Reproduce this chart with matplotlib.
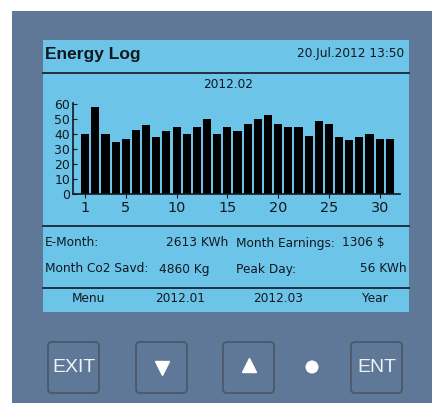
import matplotlib
matplotlib.use("Agg")

import matplotlib.pyplot as plt
from matplotlib.patches import Rectangle, FancyBboxPatch, Circle


plt.rcParams["font.family"] = ["DejaVu Sans"]

# daily energy for 2012.02
days = list(range(1, 32))
energy = [
    40, 58, 40, 35, 37, 43, 46, 38, 42, 45,
    40, 45, 50, 40, 45, 42, 47, 50, 53, 47,
    45, 45, 39, 49, 47, 38, 36, 38, 40, 37, 37,
]

y_ticks = [0, 10, 20, 30, 40, 50, 60]
x_ticks = [1, 5, 10, 15, 20, 25, 30]

title = "Energy Log"
timestamp = "20.Jul.2012 13:50"
month = "2012.02"

stat_labels = ["E-Month:", "Month Earnings:", "Month Co2 Savd:", "Peak Day:"]
stat_values = ["2613 KWh", "1306 $", "4860 Kg", "56 KWh"]

menu_items = ["Menu", "2012.01", "2012.03", "Year"]

DEVICE = "#5f7898"
SCREEN = "#6cc4e8"
INK = "#111820"
BUTTON_EDGE = "#4c5868"
BUTTON_TEXT = "#eef3f8"

W, H = 432, 405
FS = 8.7

fig = plt.figure(figsize=(W / 100, H / 100), dpi=100, facecolor="white")

# pixel canvas for the device frame, screen and buttons
bg = fig.add_axes([0, 0, 1, 1])
bg.set_xlim(0, W)
bg.set_ylim(H, 0)
bg.axis("off")

bg.add_patch(Rectangle((12, 11), W - 12, 392, color=DEVICE, lw=0))
bg.add_patch(Rectangle((43, 40), 366, 272, color=SCREEN, lw=0))

for y in (73, 226, 288):
    bg.plot([43, 409], [y, y], color=INK, lw=1.2)

bg.text(45, 55, title, fontsize=12.5, fontweight="bold", color=INK,
        va="center", family="Liberation Sans")
bg.text(404, 53, timestamp, fontsize=FS, color=INK, va="center", ha="right")
bg.text(228, 85, month, fontsize=FS, color=INK, va="center", ha="center")

# stats block
bg.text(45, 243, stat_labels[0], fontsize=FS, color=INK, va="center")
bg.text(228, 243, stat_values[0], fontsize=FS, color=INK, va="center", ha="right")
bg.text(236, 243, stat_labels[1], fontsize=FS, color=INK, va="center")
bg.text(384, 243, stat_values[1], fontsize=FS, color=INK, va="center", ha="right")

bg.text(45, 269, stat_labels[2], fontsize=FS, color=INK, va="center")
bg.text(159, 269, stat_values[2], fontsize=FS, color=INK, va="center")
bg.text(236, 269, stat_labels[3], fontsize=FS, color=INK, va="center")
bg.text(407, 269, stat_values[3], fontsize=FS, color=INK, va="center", ha="right")

for cx, item in zip([88, 180, 278, 375], menu_items):
    bg.text(cx, 299, item, fontsize=FS, color=INK, va="center", ha="center")

# hardware buttons
buttons = [(48, "EXIT"), (136, None), (223, None), (351, "ENT")]

for x0, label in buttons:
    bg.add_patch(
        FancyBboxPatch(
            (x0 + 3, 345),
            45,
            45,
            boxstyle="round,pad=3,rounding_size=4",
            facecolor=DEVICE,
            edgecolor=BUTTON_EDGE,
            lw=1.3,
        )
    )
    if label:
        bg.text(x0 + 25.5, 367, label, fontsize=14, color=BUTTON_TEXT,
                va="center", ha="center", family="Liberation Sans")

bg.plot([161.5], [368], marker="v", markersize=10, color="white", lw=0)
bg.plot([248.5], [365], marker="^", markersize=10, color="white", lw=0)
bg.add_patch(Circle((312, 367), 6.5, color="white", lw=0))

# bar chart on the screen
ax = fig.add_axes([73 / W, 1 - 194 / H, 327 / W, 91 / H])
ax.patch.set_alpha(0)

ax.bar(days, energy, width=0.8, color="black", lw=0)

ax.set_xlim(-0.2, 32)
ax.set_ylim(0, 61)

ax.set_yticks(y_ticks)
ax.set_xticks(x_ticks)

ax.spines["top"].set_visible(False)
ax.spines["right"].set_visible(False)
ax.spines["left"].set_color(INK)
ax.spines["bottom"].set_color(INK)
ax.spines["left"].set_linewidth(1.2)
ax.spines["bottom"].set_linewidth(1.2)

ax.tick_params(axis="y", direction="in", length=3, pad=2,
               labelsize=8.9, colors=INK)
ax.tick_params(axis="x", direction="out", length=3, pad=2,
               labelsize=10.4, colors=INK)

fig.savefig("out.png", dpi=100, facecolor="white")
